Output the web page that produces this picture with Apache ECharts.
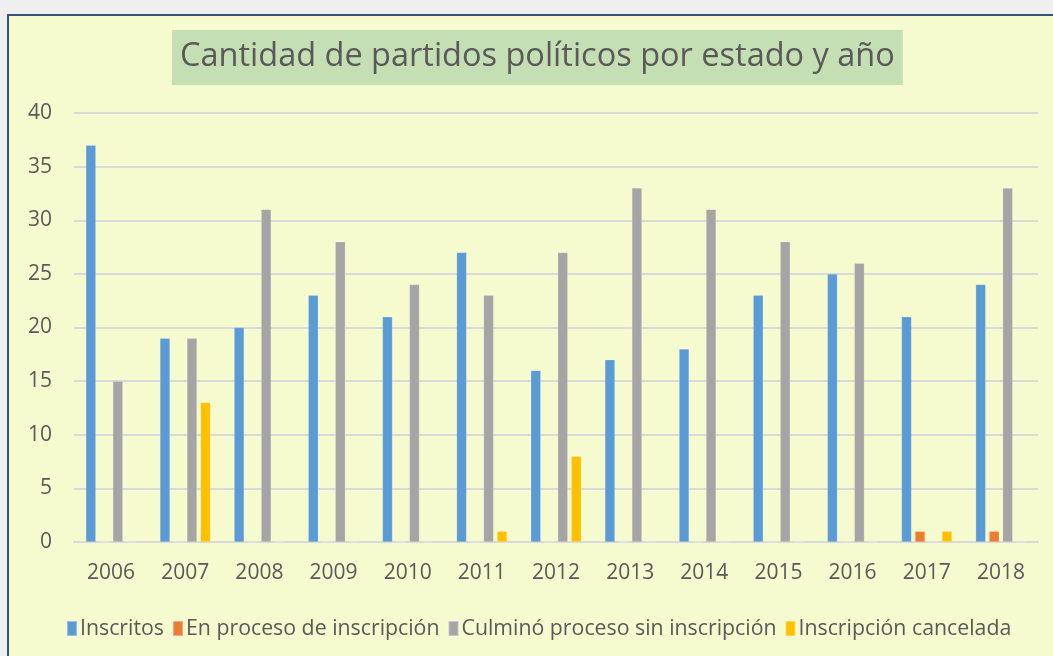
<!DOCTYPE html>
<html>
<head>
<meta charset="utf-8">
<script src="https://cdn.jsdelivr.net/npm/echarts@6/dist/echarts.min.js"></script>
<style>
  html, body { margin: 0; padding: 0; background: #efefef; }
  #main {
    position: absolute; left: 7px; top: 14px; width: 1046px; height: 642px;
    background: #F6FACF; border-left: 2px solid #34507e; border-top: 2px solid #34507e;
  }
</style>
</head>
<body>
<div id="main"></div>
<script type="text/javascript">
  // datos por año
  var years = ['2006','2007','2008','2009','2010','2011','2012','2013','2014','2015','2016','2017','2018'];
  var inscritos  = [37, 19, 20, 23, 21, 27, 16, 17, 18, 23, 25, 21, 24];
  var enProceso  = [0, 0, 0, 0, 0, 0, 0, 0, 0, 0, 0, 1, 1];
  var culmino    = [15, 19, 31, 28, 24, 23, 27, 33, 31, 28, 26, 0, 33];
  var cancelada  = [0, 13, 0, 0, 0, 1, 8, 0, 0, 0, 0, 1, 0];
  var seriesNames = ['Inscritos', 'En proceso de inscripción', 'Culminó proceso sin inscripción', 'Inscripción cancelada'];
  var colors = ['#5B9BD5', '#ED7D31', '#A5A5A5', '#FFC000'];

  var chart = echarts.init(document.getElementById('main'));
  var font = 'Open Sans, Noto Sans, sans-serif';

  function bar(name, data) {
    return {
      name: name, type: 'bar', data: data,
      barWidth: 10, barGap: '35%',
      itemStyle: { borderColor: 'rgba(255,255,255,0.35)', borderWidth: 0.5 }
    };
  }

  var option = {
    color: colors,
    animation: false,
    title: {
      text: 'Cantidad de partidos políticos por estado y año',
      left: 163, top: 14,
      backgroundColor: '#C5DFB4',
      padding: [7, 8, 8, 8],
      textStyle: { fontFamily: font, fontSize: 32.5, fontWeight: 'normal', color: '#595959', lineHeight: 40 }
    },
    grid: { left: 65, right: 17, top: 97, bottom: 116 },
    legend: {
      bottom: 14, left: 52,
      itemWidth: 10, itemHeight: 15, itemGap: 8,
      icon: 'rect',
      textStyle: { fontFamily: font, fontSize: 21.3, color: '#595959', padding: [0, 0, 0, -2] },
      data: seriesNames
    },
    xAxis: {
      type: 'category', data: years,
      axisLine: { lineStyle: { color: '#D9D9D9', width: 2 } },
      axisTick: { show: false },
      axisLabel: { fontFamily: font, fontSize: 21, color: '#595959', margin: 21 }
    },
    yAxis: {
      type: 'value', min: 0, max: 40, interval: 5,
      axisLine: { show: false },
      axisTick: { show: false },
      splitLine: { lineStyle: { color: '#D9D9D9', width: 2 } },
      axisLabel: { fontFamily: font, fontSize: 21, color: '#595959', margin: 22 }
    },
    series: [
      bar(seriesNames[0], inscritos),
      bar(seriesNames[1], enProceso),
      bar(seriesNames[2], culmino),
      bar(seriesNames[3], cancelada)
    ]
  };
  chart.setOption(option);
</script>
</body>
</html>
